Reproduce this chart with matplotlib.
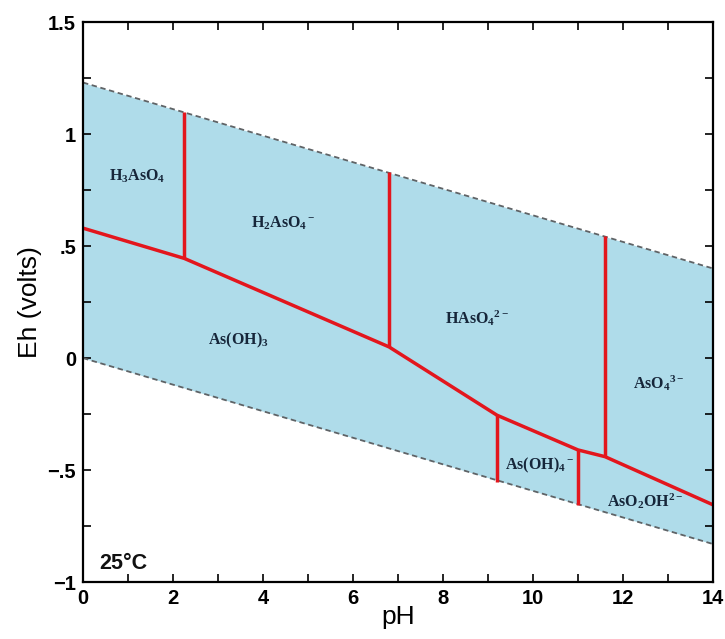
import matplotlib
matplotlib.use("Agg")
import matplotlib.pyplot as plt
from matplotlib.ticker import MultipleLocator, FixedLocator

plt.rcParams['mathtext.fontset'] = 'custom'
plt.rcParams['mathtext.rm'] = 'Liberation Serif:bold'
plt.rcParams['mathtext.it'] = 'Liberation Serif:bold'
plt.rcParams['mathtext.bf'] = 'Liberation Serif:bold'

# water stability limits (pH, Eh)
ph_lim = [0, 14]
eh_upper = [1.23, 0.40]
eh_lower = [0.0, -0.83]

# As(V)/As(III) boundary
ph_redox = [0, 2.25, 6.8, 9.2, 11.0, 11.6, 14]
eh_redox = [0.58, 0.445, 0.05, -0.255, -0.41, -0.44, -0.655]

# vertical acid/base boundaries: pH, Eh bottom, Eh top
v_ph = [2.25, 6.8, 11.6, 9.2, 11.0]
v_bot = [0.445, 0.05, -0.44, -0.555, -0.655]
v_top = [1.10, 0.83, 0.545, -0.255, -0.41]

species = ["H$_3$AsO$_4$", "H$_2$AsO$_4$$^-$", "HAsO$_4$$^{2-}$", "As(OH)$_3$",
           "AsO$_4$$^{3-}$", "As(OH)$_4$$^-$", "AsO$_2$OH$^{2-}$"]
sp_ph = [1.2, 4.45, 8.75, 3.45, 12.8, 10.15, 12.5]
sp_eh = [0.81, 0.60, 0.18, 0.08, -0.11, -0.48, -0.64]

fig = plt.figure(figsize=(7.25, 6.39), dpi=100)
ax = fig.add_axes([0.1145, 0.089, 0.869, 0.8765])

ax.fill_between(ph_lim, eh_lower, eh_upper, color='#afdcea', lw=0)
ax.plot(ph_lim, eh_upper, '--', color='#5f6366', lw=1.3, dashes=(3, 2))
ax.plot(ph_lim, eh_lower, '--', color='#5f6366', lw=1.3, dashes=(3, 2))

ax.plot(ph_redox, eh_redox, color='#e3161d', lw=2.5, solid_capstyle='butt')
ax.vlines(v_ph, v_bot, v_top, color='#e3161d', lw=2.5)

for s, x, y in zip(species, sp_ph, sp_eh):
    ax.text(x, y, s, ha='center', va='center', fontsize=11.5,
            family='Liberation Serif', weight='bold', color='#16263a')

ax.text(0.36, -0.94, "25°C", fontsize=15.5, family='Liberation Sans',
        weight='bold', color='#111111')

ax.set_xlim(0, 14)
ax.set_ylim(-1, 1.5)
ax.xaxis.set_major_locator(MultipleLocator(2))
ax.xaxis.set_minor_locator(MultipleLocator(1))
ax.yaxis.set_major_locator(FixedLocator([-1, -0.5, 0, 0.5, 1, 1.5]))
ax.yaxis.set_minor_locator(MultipleLocator(0.25))
ax.set_yticklabels(["\u22121", "\u2212.5", "0", ".5", "1", "1.5"])
ax.tick_params(which='both', direction='in', top=True, right=True, width=1.2)
ax.tick_params(which='major', length=6, labelsize=14.5, pad=5)
ax.tick_params(which='minor', length=6)
for lab in ax.get_xticklabels() + ax.get_yticklabels():
    lab.set_family('Liberation Sans')
    lab.set_fontweight('bold')
for sp in ax.spines.values():
    sp.set_linewidth(1.6)

ax.set_xlabel("pH", fontsize=19, family='Liberation Sans', labelpad=-2)
ax.set_ylabel("Eh (volts)", fontsize=19, family='Liberation Sans', labelpad=4)

fig.savefig("out.png", dpi=100)
